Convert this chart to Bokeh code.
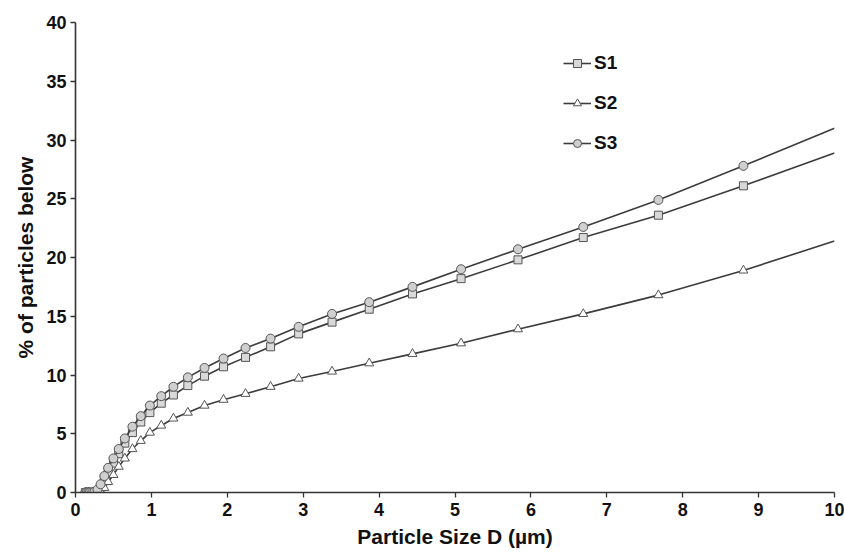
from bokeh.plotting import figure
from bokeh.models import Legend, LegendItem, Range1d, FixedTicker
from bokeh.embed import file_html
from bokeh.resources import INLINE

# Particle size classes (µm) and cumulative % of particles below each size
size_um = [0.13, 0.15, 0.17, 0.19, 0.22, 0.25, 0.29, 0.33, 0.38, 0.43, 0.50,
           0.57, 0.65, 0.75, 0.86, 0.98, 1.13, 1.29, 1.48, 1.70, 1.95, 2.24,
           2.57, 2.94, 3.38, 3.87, 4.44, 5.08, 5.83, 6.69, 7.68, 8.80, 10.0]

s1 = [0.0, 0.0, 0.0, 0.0, 0.0, 0.0, 0.1, 0.45, 1.0, 1.7, 2.5,
      3.3, 4.2, 5.1, 6.0, 6.8, 7.6, 8.3, 9.1, 9.9, 10.7, 11.5,
      12.4, 13.5, 14.5, 15.6, 16.9, 18.2, 19.8, 21.7, 23.6, 26.1, 28.9]

s2 = [0.0, 0.0, 0.0, 0.0, 0.0, 0.0, 0.0, 0.1, 0.4, 0.9, 1.5,
      2.2, 2.9, 3.7, 4.4, 5.1, 5.7, 6.3, 6.8, 7.4, 7.9, 8.4,
      9.0, 9.7, 10.3, 11.0, 11.8, 12.7, 13.9, 15.2, 16.8, 18.9, 21.4]

s3 = [0.0, 0.0, 0.0, 0.0, 0.0, 0.05, 0.25, 0.7, 1.4, 2.1, 2.9,
      3.7, 4.6, 5.6, 6.5, 7.4, 8.2, 9.0, 9.8, 10.6, 11.4, 12.3,
      13.1, 14.1, 15.2, 16.2, 17.5, 19.0, 20.7, 22.6, 24.9, 27.8, 31.0]

series_names = ["S1", "S2", "S3"]
x_ticks = [0, 1, 2, 3, 4, 5, 6, 7, 8, 9, 10]
y_ticks = [0, 5, 10, 15, 20, 25, 30, 35, 40]

FONT = "Liberation Sans"
LINE = "#3c3c3c"
TEXT = "#111111"

p = figure(width=844, height=554, output_backend="svg", toolbar_location=None,
           x_range=Range1d(0, 10), y_range=Range1d(0, 40),
           min_border_left=75, min_border_right=10, min_border_top=22,
           min_border_bottom=62)
p.outline_line_color = None
p.grid.visible = False
p.background_fill_color = "white"
p.border_fill_color = "white"

# marker styles per series
styles = [
    dict(marker="square", fill="#d9d9d9", size=8),
    dict(marker="triangle", fill="#ffffff", size=9),
    dict(marker="circle", fill="#cfcfcf", size=9),
]

items = []
for name, ys, st in zip(series_names, [s1, s2, s3], styles):
    ln = p.line(size_um, ys, line_color=LINE, line_width=1.6)
    # the final class sits on the plot edge and carries no marker
    mk = p.scatter(size_um[:-1], ys[:-1], marker=st["marker"], size=st["size"],
                   fill_color=st["fill"], line_color="#555555", line_width=1)
    items.append(LegendItem(label=name, renderers=[ln, mk]))

legend = Legend(items=items, location=(488, 338), orientation="vertical",
                border_line_color=None, background_fill_alpha=0,
                label_text_font=FONT, label_text_font_style="bold",
                label_text_font_size="19px", label_text_color=TEXT,
                glyph_width=28, glyph_height=20, label_height=20,
                spacing=18, padding=0, margin=0, label_standoff=3)
p.add_layout(legend)

for ax in (p.xaxis[0], p.yaxis[0]):
    ax.axis_line_color = "#333333"
    ax.axis_line_width = 1.6
    ax.major_tick_line_color = "#333333"
    ax.major_tick_line_width = 1.3
    ax.major_tick_in = 0
    ax.major_tick_out = 5
    ax.minor_tick_line_color = None
    ax.major_label_text_font = FONT
    ax.major_label_text_font_style = "bold"
    ax.major_label_text_font_size = "18px"
    ax.major_label_text_color = TEXT
    ax.axis_label_text_font = FONT
    ax.axis_label_text_font_style = "bold"
    ax.axis_label_text_font_size = "21px"
    ax.axis_label_text_color = TEXT

p.xaxis[0].ticker = FixedTicker(ticks=x_ticks)
p.yaxis[0].ticker = FixedTicker(ticks=y_ticks)
p.xaxis[0].axis_label = "Particle Size D (µm)"
p.yaxis[0].axis_label = "% of particles below"
p.xaxis[0].major_label_standoff = 5
p.yaxis[0].major_label_standoff = 4
p.xaxis[0].axis_label_standoff = 6
p.yaxis[0].axis_label_standoff = 6

open("out.html", "w").write(file_html(p, INLINE))
